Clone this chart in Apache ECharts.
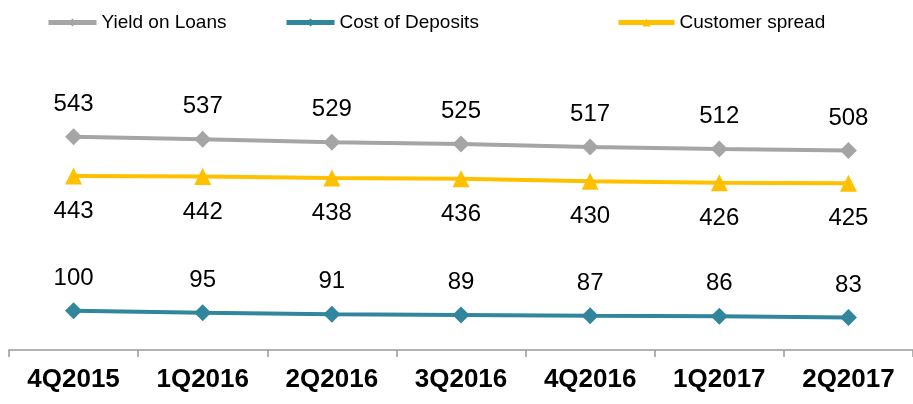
<!DOCTYPE html>
<html>
<head>
<meta charset="utf-8">
<script src="https://cdn.jsdelivr.net/npm/echarts@6/dist/echarts.min.js"></script>
<style>
  html, body { margin: 0; padding: 0; background: #fff; }
  #chart { width: 913px; height: 404px; }
</style>
</head>
<body>
<div id="chart"></div>
<script>
  var quarters = ['4Q2015', '1Q2016', '2Q2016', '3Q2016', '4Q2016', '1Q2017', '2Q2017']
  var yieldOnLoans = [543, 537, 529, 525, 517, 512, 508]
  var costOfDeposits = [100, 95, 91, 89, 87, 86, 83]
  var customerSpread = [443, 442, 438, 436, 430, 426, 425]

  var font = 'Liberation Sans, Arial, sans-serif'
  var chart = echarts.init(document.getElementById('chart'))

  function lineSeries(name, data, color, symbol, labelPos, labelDist) {
    return {
      name: name,
      type: 'line',
      data: data,
      symbol: symbol,
      symbolSize: 17,
      itemStyle: { color: color },
      lineStyle: { width: 4, color: color },
      label: {
        show: true,
        position: labelPos,
        distance: labelDist,
        color: '#000',
        fontSize: 24,
        fontFamily: font
      },
      animation: false
    }
  }

  // one legend per item, the reference spaces them unevenly
  function legendItem(name, left, width) {
    return {
      top: 8,
      left: left,
      itemWidth: width,
      itemHeight: 10,
      lineStyle: { width: 5 },
      textStyle: { fontSize: 19, color: '#000', fontFamily: font },
      data: [name]
    }
  }

  chart.setOption({
    grid: {
      left: 9,
      right: -2,
      top: 36,
      bottom: 54
    },
    legend: [
      legendItem('Yield on Loans', 41, 48),
      legendItem('Cost of Deposits', 279, 48),
      legendItem('Customer spread', 611, 56)
    ],
    xAxis: {
      type: 'category',
      data: quarters,
      axisLine: { lineStyle: { color: '#999', width: 1.5 } },
      axisTick: { show: true, length: 7, lineStyle: { color: '#999', width: 1.5 } },
      axisLabel: {
        margin: 17,
        fontSize: 26,
        fontWeight: 'bold',
        color: '#000',
        fontFamily: font
      }
    },
    yAxis: {
      type: 'value',
      min: 0,
      max: 800,
      show: false,
      splitLine: { show: false }
    },
    series: [
      lineSeries('Yield on Loans', yieldOnLoans, '#A5A5A5', 'diamond', 'top', 12),
      lineSeries('Cost of Deposits', costOfDeposits, '#31859C', 'diamond', 'top', 12),
      lineSeries('Customer spread', customerSpread, '#FFC000', 'triangle', 'bottom', 15)
    ]
  })
</script>
</body>
</html>
